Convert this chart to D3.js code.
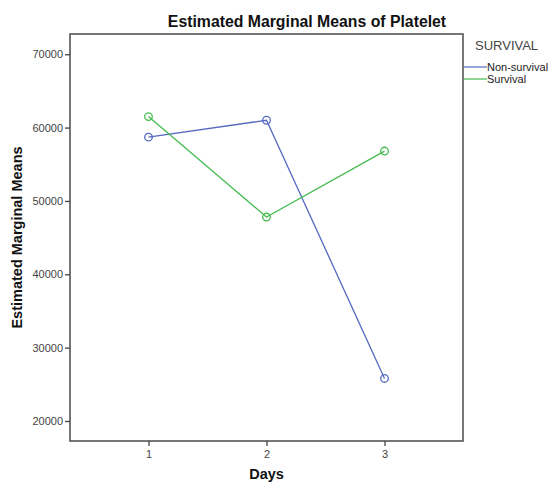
<!DOCTYPE html>
<html>
<head>
<meta charset="utf-8">
<script src="https://cdn.jsdelivr.net/npm/d3@7"></script>
<style>
  html, body { margin: 0; padding: 0; background: #fff; }
  svg { display: block; font-family: "Liberation Sans", Arial, sans-serif; }
</style>
</head>
<body>
<svg id="chart" width="550" height="485"></svg>
<script>
// Days on the x axis
const days = [1, 2, 3];
// Estimated marginal means of platelet count per group
const nonSurvival = [58700, 61000, 25800];
const survival = [61500, 47800, 56800];
const seriesNames = ["Non-survival", "Survival"];
const seriesColors = ["#5468c2", "#45bb50"];
const yTicks = [20000, 30000, 40000, 50000, 60000, 70000];

const series = [
  { name: seriesNames[0], color: seriesColors[0], values: nonSurvival },
  { name: seriesNames[1], color: seriesColors[1], values: survival }
];

const svg = d3.select("#chart");
const frame = { left: 70, top: 34, right: 463, bottom: 441 };

const x = d3.scaleLinear().domain([0.335, 3.665]).range([frame.left, frame.right]);
const y = d3.scaleLinear().domain([17270, 72760]).range([frame.bottom, frame.top]);

// plot frame
svg.append("rect")
  .attr("x", frame.left).attr("y", frame.top)
  .attr("width", frame.right - frame.left).attr("height", frame.bottom - frame.top)
  .attr("fill", "none").attr("stroke", "#555").attr("stroke-width", 1.6);

// axes
const yAxis = svg.append("g")
  .attr("transform", `translate(${frame.left},0)`)
  .call(d3.axisLeft(y).tickValues(yTicks).tickFormat(d3.format("d")).tickSize(5).tickPadding(2));
const xAxis = svg.append("g")
  .attr("transform", `translate(0,${frame.bottom})`)
  .call(d3.axisBottom(x).tickValues(days).tickFormat(d3.format("d")).tickSize(5).tickPadding(4));
[yAxis, xAxis].forEach(g => {
  g.select(".domain").remove();
  g.selectAll("line").attr("stroke", "#444").attr("stroke-width", 1.3);
  g.selectAll("text").attr("fill", "#444").style("font-size", "11px")
    .style("font-family", "'Liberation Sans', Arial, sans-serif");
});

// lines and markers
const line = d3.line().x((d, i) => x(days[i])).y(d => y(d));
series.forEach(s => {
  svg.append("path")
    .attr("d", line(s.values))
    .attr("fill", "none").attr("stroke", s.color).attr("stroke-width", 1.3);
  svg.selectAll(null).data(s.values).enter().append("circle")
    .attr("cx", (d, i) => x(days[i])).attr("cy", d => y(d))
    .attr("r", 3.8)
    .attr("fill", "none").attr("stroke", s.color).attr("stroke-width", 1.3);
});

// titles
svg.append("text")
  .attr("x", 307).attr("y", 27)
  .attr("text-anchor", "middle").attr("font-weight", "bold").attr("font-size", 15.8)
  .attr("fill", "#111")
  .text("Estimated Marginal Means of Platelet");
svg.append("text")
  .attr("x", (frame.left + frame.right) / 2).attr("y", 479)
  .attr("text-anchor", "middle").attr("font-weight", "bold").attr("font-size", 14.5)
  .attr("fill", "#111")
  .text("Days");
svg.append("text")
  .attr("transform", `translate(22,${(frame.top + frame.bottom) / 2}) rotate(-90)`)
  .attr("text-anchor", "middle").attr("font-weight", "bold").attr("font-size", 14.5)
  .attr("fill", "#111")
  .text("Estimated Marginal Means");

// legend
const legend = svg.append("g");
legend.append("text")
  .attr("x", 475).attr("y", 50)
  .attr("font-size", 13).attr("fill", "#444")
  .text("SURVIVAL");
series.forEach((s, i) => {
  const ly = 67 + i * 12;
  legend.append("line")
    .attr("x1", 464).attr("x2", 487).attr("y1", ly).attr("y2", ly)
    .attr("stroke", s.color).attr("stroke-width", 1.2);
  legend.append("text")
    .attr("x", 487).attr("y", ly + 4)
    .attr("font-size", 11).attr("fill", "#222")
    .text(s.name);
});
</script>
</body>
</html>
